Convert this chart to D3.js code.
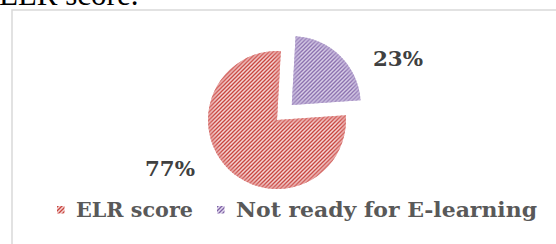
<!DOCTYPE html>
<html><head><meta charset="utf-8">
<script src="https://cdn.jsdelivr.net/npm/d3@7"></script>
<style>html,body{margin:0;padding:0;background:#fff;overflow:hidden}</style>
</head><body>
<svg id="c" width="556" height="244"></svg>
<script>
const categories = ["ELR score", "Not ready for E-learning"];
const values = [77, 23];
const labels = ["77%", "23%"];
const exploded = [0, 1];

const svg = d3.select("#c");
const defs = svg.append("defs");
const pal = [
  {bg: "#f3d3d2", fg: "#c9453f", rim: "#e08a88"},
  {bg: "#e2daee", fg: "#7f62a6", rim: "#b6a4d0"}
];
pal.forEach((p, i) => {
  const pat = defs.append("pattern").attr("id", "pat" + i)
    .attr("patternUnits", "userSpaceOnUse").attr("width", 4).attr("height", 4);
  pat.append("rect").attr("width", 4).attr("height", 4).attr("fill", p.bg);
  pat.append("path").attr("d", "M-1,1 l2,-2 M0,4 l4,-4 M3,5 l2,-2")
    .attr("stroke", p.fg).attr("stroke-width", 1.3);
});
defs.append("filter").attr("id", "blur").append("feGaussianBlur").attr("stdDeviation", 2.5);

// title fragment at top
svg.append("text").attr("x", -1).attr("y", 5)
  .attr("font-family", "Liberation Serif").attr("font-size", 31).attr("fill", "#000")
  .text("ELR score.");

// chart border
svg.append("rect").attr("x", 12).attr("y", 10).attr("width", 600).attr("height", 300)
  .attr("fill", "none").attr("stroke", "#d9d9d9").attr("stroke-width", 1.5);

const cx = 277, cy = 120, r = 69, explode = 21;
const deg = Math.PI / 180;
const pie = d3.pie().sort(null).startAngle(86 * deg).endAngle(86 * deg + 2 * Math.PI);
const arcs = pie(values);
const arc = d3.arc().innerRadius(0).outerRadius(r);

const g = svg.append("g");
arcs.forEach((a, i) => {
  const mid = (a.startAngle + a.endAngle) / 2;
  const off = exploded[i] ? explode : 0;
  const dx = Math.sin(mid) * off, dy = -Math.cos(mid) * off;
  const sg = g.append("g").attr("transform", `translate(${cx + dx},${cy + dy})`);
  const cp = defs.append("clipPath").attr("id", "clip" + i);
  cp.append("path").attr("d", arc(a));
  sg.append("path").attr("d", arc(a)).attr("fill", `url(#pat${i})`);
  sg.append("path").attr("d", arc(a)).attr("fill", "none")
    .attr("stroke", pal[i].rim).attr("stroke-width", 7).attr("opacity", 0.7)
    .attr("filter", "url(#blur)").attr("clip-path", `url(#clip${i})`);
});

// data labels
const labelPos = [{x: 145, y: 176, w: 50}, {x: 373, y: 66, w: 50}];
labels.forEach((t, i) => {
  svg.append("text").attr("x", labelPos[i].x).attr("y", labelPos[i].y)
    .attr("font-family", "DejaVu Serif").attr("font-weight", "bold").attr("font-size", 21)
    .attr("fill", "#404040").attr("textLength", labelPos[i].w).attr("lengthAdjust", "spacingAndGlyphs")
    .text(t);
});

// legend
const legendPos = [{mx: 57, tx: 76, w: 117}, {mx: 217, tx: 236, w: 301}];
categories.forEach((c, i) => {
  svg.append("rect").attr("x", legendPos[i].mx).attr("y", 206).attr("width", 7.5).attr("height", 7.5)
    .attr("fill", `url(#pat${i})`);
  svg.append("text").attr("x", legendPos[i].tx).attr("y", 217)
    .attr("font-family", "DejaVu Serif").attr("font-weight", "bold").attr("font-size", 21)
    .attr("fill", "#595959").attr("textLength", legendPos[i].w).attr("lengthAdjust", "spacingAndGlyphs")
    .text(c);
});
</script>
</body></html>
